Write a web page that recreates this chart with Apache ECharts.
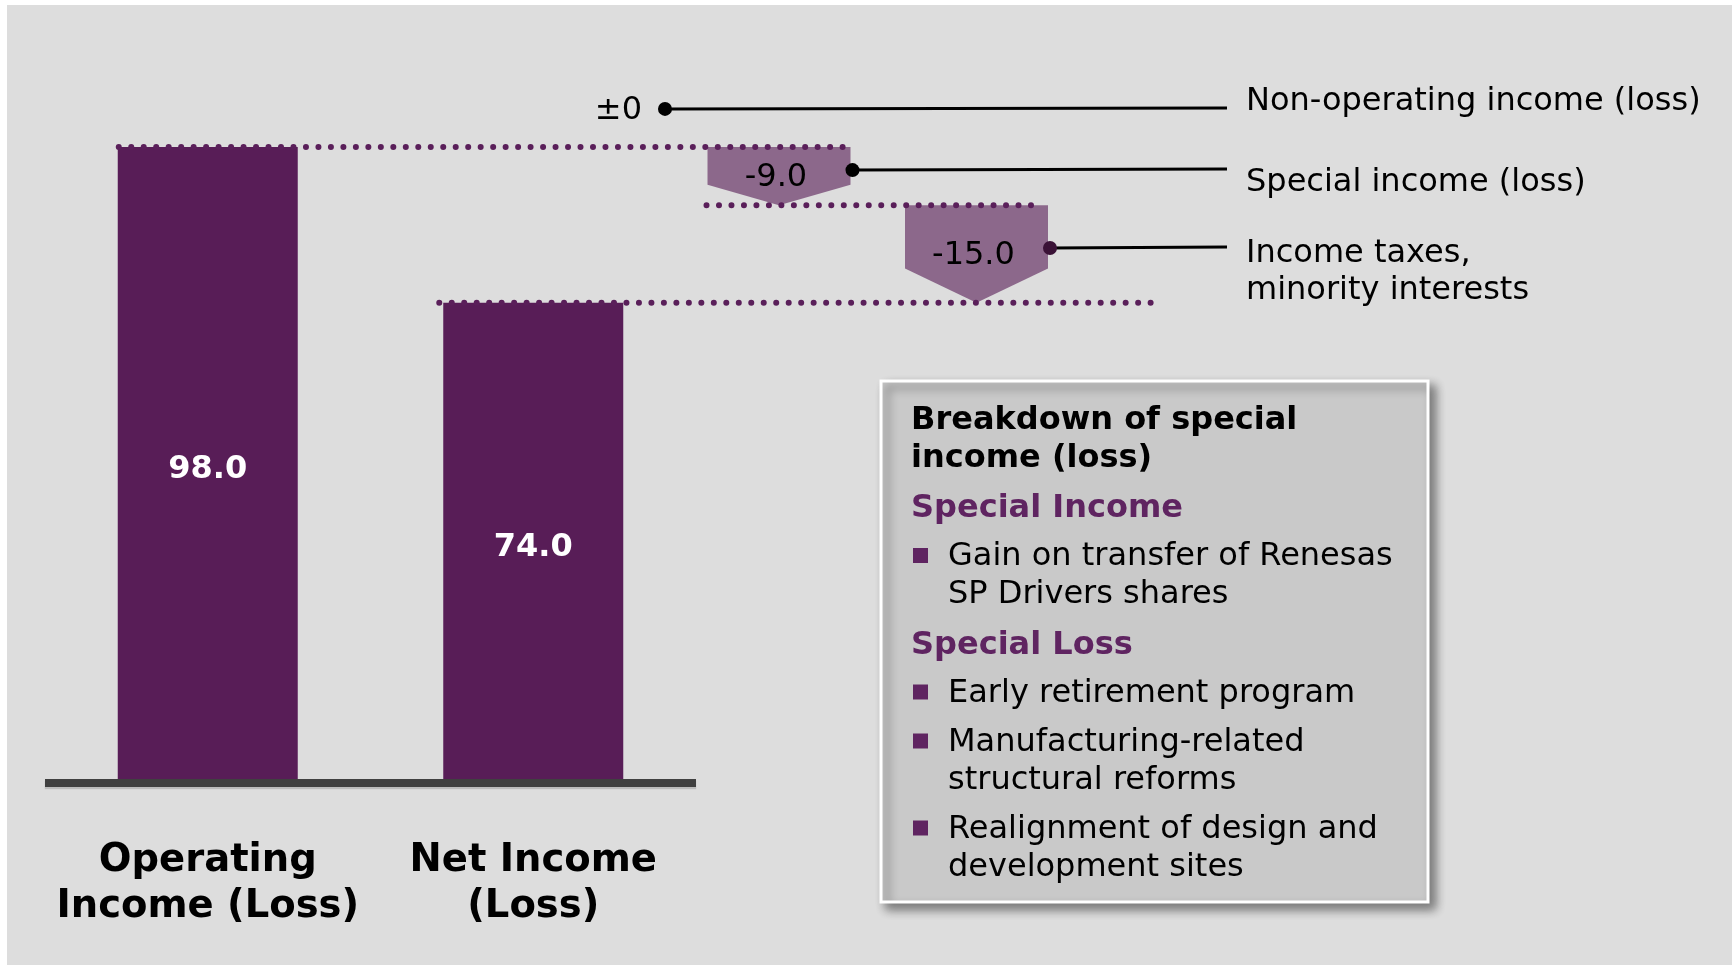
<!DOCTYPE html>
<html>
<head>
<meta charset="utf-8">
<script src="https://cdn.jsdelivr.net/npm/echarts@6/dist/echarts.min.js"></script>
<style>
html,body{margin:0;padding:0;background:#ffffff;}
#chart{width:1732px;height:965px;}
</style>
</head>
<body>
<div id="chart"></div>
<script>
// ---- data ----
const categories = ['Operating\nIncome (Loss)', 'Net Income\n(Loss)'];
const totals = [98.0, 74.0];
const bridgeNames = ['Non-operating income (loss)', 'Special income (loss)', 'Income taxes,\nminority interests'];
const bridgeDeltas = [0, -9.0, -15.0];
const bridgeLabels = ['\u00b10', '-9.0', '-15.0'];
const boxTitle = 'Breakdown of special\nincome (loss)';
const incomeHeading = 'Special Income';
const incomeItems = ['Gain on transfer of Renesas\nSP Drivers shares'];
const lossHeading = 'Special Loss';
const lossItems = ['Early retirement program', 'Manufacturing-related\nstructural reforms', 'Realignment of design and\ndevelopment sites'];

// ---- derived ----
let level = totals[0];
const bridgeData = bridgeDeltas.map(function (d, i) { const s = level; level += d; return [i, s, level]; });

// ---- style ----
const FONT = '"DejaVu Sans", Verdana, sans-serif';
const BAR = '#581d57';
const CHEV = '#8c688b';
const DOT = '#5a1f5a';
const PURPLE = '#5f2461';
const Y_MAX = 110;
const LINE_END_X = 1227;
const LABEL_X = 1246;
const TDY = 4;
const labelDy = [-11, 9, 20];
const dotColor = ['#000', '#000', '#3a1236'];

const chart = echarts.init(document.getElementById('chart'), null, {renderer: 'canvas'});

function renderBridge(params, api) {
  const i = api.value(0), s = api.value(1), e = api.value(2);
  const band = api.size([1, 0])[0];
  const cx = api.coord([i, s])[0];
  const y0 = api.coord([i, s])[1];
  const y1 = api.coord([i, e])[1];
  const hw = band * 0.362;
  const children = [];
  let dotX, dotY;
  if (s !== e) {
    const yr = y0 + (y1 - y0) * 0.65;
    children.push({type: 'polygon', shape: {points: [[cx - hw, y0], [cx + hw, y0], [cx + hw, yr], [cx, y1], [cx - hw, yr]]}, style: {fill: CHEV}});
    children.push({type: 'text', style: {text: bridgeLabels[i], x: cx - 3, y: (y0 + y1) / 2 - 2 + TDY, align: 'center', verticalAlign: 'middle', fontSize: 32, fontFamily: FONT, fill: '#000'}});
    dotX = cx + hw + 2; dotY = (y0 + y1) / 2 - 6;
  } else {
    dotX = cx + hw + 12; dotY = y0 - 38;
    children.push({type: 'text', style: {text: bridgeLabels[i], x: dotX - 23, y: dotY + TDY - 2, align: 'right', verticalAlign: 'middle', fontSize: 32, fontFamily: FONT, fill: '#000'}});
  }
  children.push({type: 'line', shape: {x1: dotX, y1: dotY, x2: LINE_END_X, y2: dotY - 1}, style: {stroke: '#000', lineWidth: 3}});
  children.push({type: 'circle', shape: {cx: dotX, cy: dotY, r: 7}, style: {fill: dotColor[i]}});
  children.push({type: 'text', style: {text: bridgeNames[i], x: LABEL_X, y: dotY + labelDy[i] + TDY, align: 'left', verticalAlign: 'middle', fontSize: 32, lineHeight: 37, fontFamily: FONT, fill: '#000'}});
  return {type: 'group', children: children};
}

// ---- breakdown box ----
const boxEls = [];
boxEls.push({type: 'rect', z: 1, shape: {x: 881, y: 381, width: 547, height: 521}, style: {fill: '#c9c9c9', stroke: '#ffffff', lineWidth: 3, shadowBlur: 10, shadowColor: 'rgba(0,0,0,0.45)', shadowOffsetX: 6, shadowOffsetY: 6}});
(function () {
  let y = 416.5;
  const LH = 38;
  const TX = 911, BX = 948;
  function line(text, x, yy, bold, color) {
    boxEls.push({type: 'text', z: 2, style: {text: text, x: x, y: yy + TDY, align: 'left', verticalAlign: 'middle', fontSize: 32, fontWeight: bold ? 'bold' : 'normal', fontFamily: FONT, fill: color}});
  }
  const tl = boxTitle.split('\n');
  tl.forEach(function (t, k) { line(t, TX, y, true, '#000'); if (k < tl.length - 1) y += LH; });
  function section(heading, items) {
    y += 50.5;
    line(heading, TX, y, true, PURPLE);
    y += 48;
    items.forEach(function (it, n) {
      if (n > 0) y += 49;
      boxEls.push({type: 'rect', z: 2, shape: {x: 913, y: y - 5, width: 15, height: 15}, style: {fill: PURPLE}});
      const ls = it.split('\n');
      ls.forEach(function (t, k) { line(t, BX, y, false, '#000'); if (k < ls.length - 1) y += LH; });
    });
  }
  section(incomeHeading, incomeItems);
  section(lossHeading, lossItems);
})();

const option = {
  backgroundColor: 'transparent',
  animation: false,
  graphic: {elements: [{type: 'rect', id: 'panel', z: -100, shape: {x: 7, y: 5, width: 1725, height: 960}, style: {fill: '#dddddd'}}].concat(boxEls)},
  grid: [
    {left: 45, width: 651, top: 69, height: 714, outerBoundsMode: 'none', containLabel: false},
    {left: 482.75, width: 592.5, top: 69, height: 714, outerBoundsMode: 'none', containLabel: false}
  ],
  xAxis: [
    {type: 'category', gridIndex: 0, data: categories, z: 5,
     axisLine: {show: true, lineStyle: {color: '#404040', width: 8, cap: 'butt', shadowColor: 'rgba(0,0,0,0.15)', shadowOffsetY: 2, shadowBlur: 1}},
     axisTick: {show: false},
     axisLabel: {interval: 0, margin: 55, fontSize: 38.5, fontWeight: 'bold', fontFamily: FONT, color: '#000', lineHeight: 46, align: 'center'}},
    {type: 'category', gridIndex: 1, data: bridgeNames, show: false}
  ],
  yAxis: [
    {type: 'value', gridIndex: 0, min: 0, max: Y_MAX, show: false},
    {type: 'value', gridIndex: 1, min: 0, max: Y_MAX, show: false}
  ],
  series: [
    {type: 'bar', xAxisIndex: 0, yAxisIndex: 0, data: totals, barWidth: 180, z: 2,
     itemStyle: {color: BAR},
     label: {show: true, position: 'inside', offset: [0, 5], color: '#fff', fontSize: 32, fontWeight: 'bold', fontFamily: FONT, formatter: function (p) { return p.value.toFixed(1); }}},
    {type: 'custom', xAxisIndex: 1, yAxisIndex: 1, data: bridgeData, renderItem: renderBridge, z: 3,
     encode: {x: 0, y: [1, 2]}}
  ]
};
chart.setOption(option);

// ---- dotted connector lines (second pass, positions from the axes) ----
(function () {
  const half = 90;
  const g1 = function (c, v) { return chart.convertToPixel({xAxisIndex: 0, yAxisIndex: 0}, [c, v]); };
  const g2 = function (c, v) { return chart.convertToPixel({xAxisIndex: 1, yAxisIndex: 1}, [c, v]); };
  const band = g2(2, 0)[0] - g2(1, 0)[0];
  const hw = band * 0.362;
  const b0 = g1(0, totals[0]);
  const b1 = g1(1, totals[1]);
  const c1 = g2(1, bridgeData[1][1]);
  const c1e = g2(1, bridgeData[1][2]);
  const c2 = g2(2, bridgeData[2][2]);
  function dotted(id, x1, x2, y) {
    return {type: 'line', id: id, z: 20, shape: {x1: x1, y1: y, x2: x2, y2: y},
      style: {stroke: DOT, lineWidth: 6, lineDash: [0.01, 12.47], lineCap: 'round'}};
  }
  chart.setOption({graphic: {elements: [
    dotted('d1', b0[0] - half + 1, c1[0] + hw + 3, b0[1]),
    dotted('d2', c1[0] - hw - 1, c2[0] + hw - 15, c1e[1]),
    dotted('d3', b1[0] - half - 4, c2[0] + hw + 103, b1[1])
  ]}});
})();
</script>
</body>
</html>
